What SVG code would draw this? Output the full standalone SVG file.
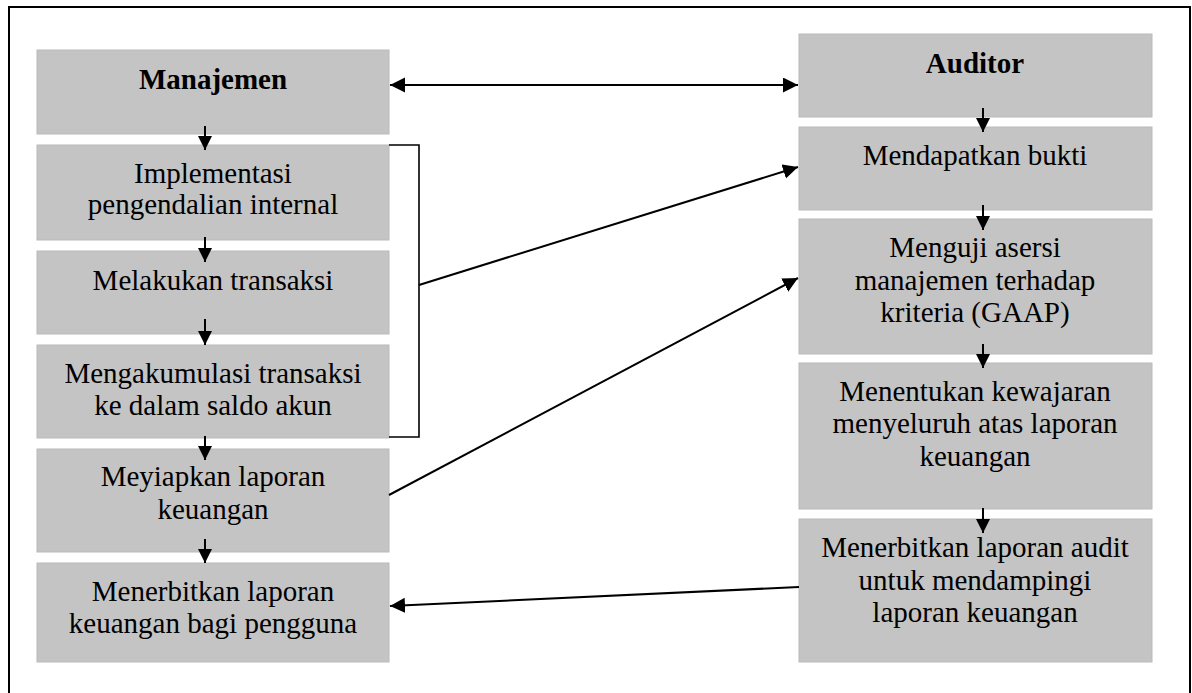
<svg xmlns="http://www.w3.org/2000/svg" width="1192" height="693" viewBox="0 0 1192 693">
<style>
.box{fill:#c4c4c4;stroke:#bababa;stroke-width:1}
.t{font-family:"Liberation Serif","Times New Roman",serif;font-size:29px;fill:#000;text-anchor:middle}
.b{font-weight:bold}
.c{fill:none;stroke:#000;stroke-width:2}
</style>
<defs>
<marker id="ah" markerUnits="userSpaceOnUse" markerWidth="16" markerHeight="16" refX="15" refY="7.5" orient="auto-start-reverse">
<path d="M0,0 L15,7.5 L0,15 z" fill="#000"/>
</marker>
<marker id="av" markerUnits="userSpaceOnUse" markerWidth="16" markerHeight="16" refX="14" refY="7" orient="auto">
<path d="M0,0 L14,7 L0,14 z" fill="#000"/>
</marker>
</defs>
<rect x="9" y="7" width="1181" height="700" fill="#fff" stroke="#000" stroke-width="2"/>

<g id="manajemen"><rect class="box" x="37" y="50" width="352" height="84"/><text class="t b" x="213" y="89">Manajemen</text></g>
<g id="implementasi"><rect class="box" x="37" y="145" width="352" height="95"/><text class="t" x="213" y="183">Implementasi</text><text class="t" x="213" y="214">pengendalian internal</text></g>
<g id="melakukan"><rect class="box" x="37" y="251" width="352" height="83"/><text class="t" x="213" y="290">Melakukan transaksi</text></g>
<g id="mengakumulasi"><rect class="box" x="37" y="345" width="352" height="93"/><text class="t" x="213" y="383">Mengakumulasi transaksi</text><text class="t" x="213" y="415">ke dalam saldo akun</text></g>
<g id="meyiapkan"><rect class="box" x="37" y="449" width="352" height="103"/><text class="t" x="213" y="486">Meyiapkan laporan</text><text class="t" x="213" y="519">keuangan</text></g>
<g id="menerbitkan-laporan"><rect class="box" x="37" y="563" width="352" height="99"/><text class="t" x="213" y="601">Menerbitkan laporan</text><text class="t" x="213" y="633">keuangan bagi pengguna</text></g>

<g id="auditor"><rect class="box" x="799" y="34" width="353" height="83"/><text class="t b" x="975" y="73">Auditor</text></g>
<g id="mendapatkan"><rect class="box" x="799" y="127" width="353" height="83"/><text class="t" x="975" y="165">Mendapatkan bukti</text></g>
<g id="menguji"><rect class="box" x="799" y="219" width="353" height="135"/><text class="t" x="975" y="257">Menguji asersi</text><text class="t" x="975" y="290">manajemen terhadap</text><text class="t" x="975" y="322">kriteria (GAAP)</text></g>
<g id="menentukan"><rect class="box" x="799" y="363" width="353" height="146"/><text class="t" x="975" y="401">Menentukan kewajaran</text><text class="t" x="975" y="433">menyeluruh atas laporan</text><text class="t" x="975" y="466">keuangan</text></g>
<g id="menerbitkan-audit"><rect class="box" x="799" y="519" width="353" height="143"/><text class="t" x="975" y="557">Menerbitkan laporan audit</text><text class="t" x="975" y="590">untuk mendampingi</text><text class="t" x="975" y="622">laporan keuangan</text></g>

<g id="connectors">
<line class="c" x1="390" y1="85" x2="798" y2="85" marker-start="url(#ah)" marker-end="url(#ah)"/>
<polyline fill="none" stroke="#000" stroke-width="1.6" points="389,145 419,145 419,437 389,437"/>
<line class="c" x1="419" y1="285" x2="798" y2="167" marker-end="url(#ah)"/>
<line class="c" x1="389" y1="495" x2="798" y2="278" marker-end="url(#ah)"/>
<line class="c" x1="799" y1="587" x2="390" y2="606" marker-end="url(#ah)"/>

<line class="c" x1="205" y1="126" x2="205" y2="150" marker-end="url(#av)"/>
<line class="c" x1="205" y1="237" x2="205" y2="262" marker-end="url(#av)"/>
<line class="c" x1="205" y1="319" x2="205" y2="345" marker-end="url(#av)"/>
<line class="c" x1="205" y1="436" x2="205" y2="460" marker-end="url(#av)"/>
<line class="c" x1="205" y1="539" x2="205" y2="563" marker-end="url(#av)"/>

<line class="c" x1="983" y1="108" x2="983" y2="132" marker-end="url(#av)"/>
<line class="c" x1="983" y1="205" x2="983" y2="230" marker-end="url(#av)"/>
<line class="c" x1="983" y1="344" x2="983" y2="368" marker-end="url(#av)"/>
<line class="c" x1="983" y1="508" x2="983" y2="533" marker-end="url(#av)"/>
</g>
</svg>
